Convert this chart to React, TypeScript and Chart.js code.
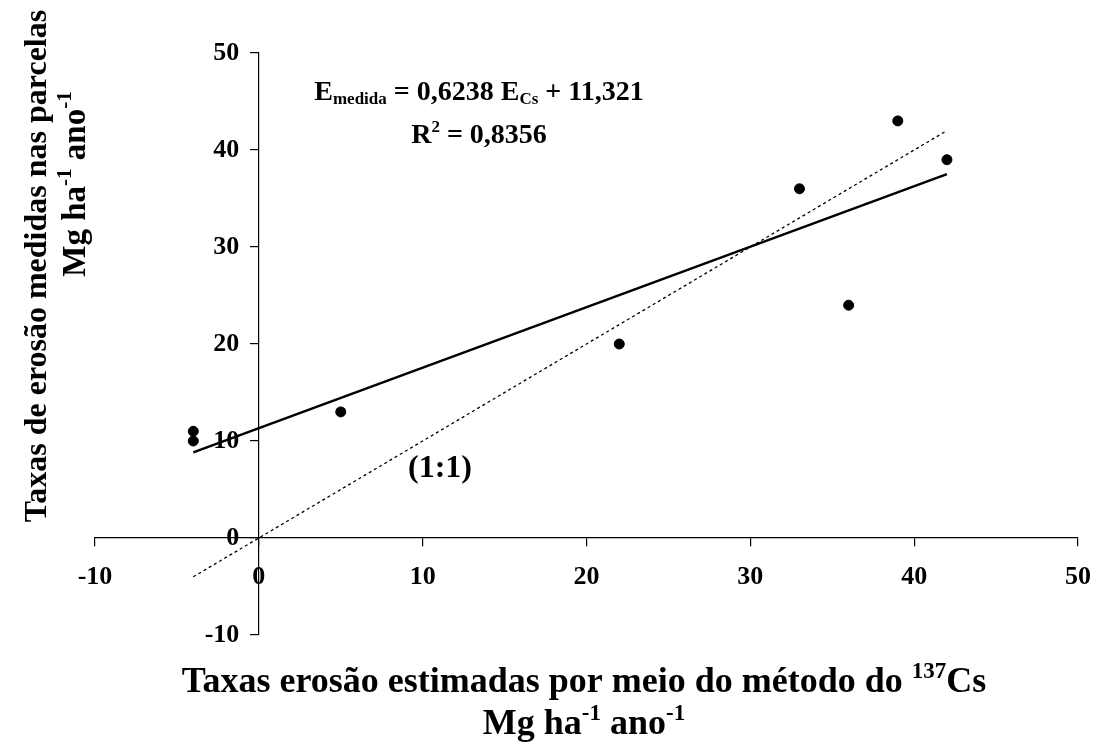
import React, { useEffect, useRef } from "react";
import { Chart, registerables } from "chart.js";

Chart.register(...registerables);

const pointsX: number[] = [-4, -4, 5, 22, 33, 36, 39, 42];
const pointsY: number[] = [11, 10, 13, 20, 36, 24, 43, 39];
const slope = 0.6238;
const intercept = 11.321;
const fitRangeX: number[] = [-4, 42];
const identityX: number[] = [-4, 42];
const axisMin = -10;
const axisMax = 50;
const axisStep = 10;

const FONT = "'Liberation Serif', 'Times New Roman', serif";

type Seg = { t: string; s: number; dy?: number };

function drawRich(ctx: CanvasRenderingContext2D, segs: Seg[], cx: number, cy: number) {
  let total = 0;
  for (const sg of segs) {
    ctx.font = `bold ${sg.s}px ${FONT}`;
    total += ctx.measureText(sg.t).width;
  }
  let x = cx - total / 2;
  ctx.textBaseline = "middle";
  ctx.textAlign = "left";
  for (const sg of segs) {
    ctx.font = `bold ${sg.s}px ${FONT}`;
    ctx.fillText(sg.t, x, cy + (sg.dy || 0));
    x += ctx.measureText(sg.t).width;
  }
}

const textPlugin = {
  id: "textPlugin",
  afterDraw(chart: any) {
    const ctx: CanvasRenderingContext2D = chart.ctx;
    ctx.save();
    ctx.fillStyle = "#000";
    // equation
    drawRich(ctx, [
      { t: "E", s: 28 },
      { t: "medida", s: 17, dy: 7 },
      { t: " = 0,6238 E", s: 28 },
      { t: "Cs", s: 17, dy: 7 },
      { t: " + 11,321", s: 28 },
    ], 479, 93);
    drawRich(ctx, [
      { t: "R", s: 28 },
      { t: "2", s: 17, dy: -8 },
      { t: " = 0,8356", s: 28 },
    ], 479, 136);
    // (1:1)
    drawRich(ctx, [{ t: "(1:1)", s: 32 }], 440, 469);
    // x title
    drawRich(ctx, [
      { t: "Taxas erosão estimadas por meio do método do ", s: 36 },
      { t: "137", s: 23, dy: -11 },
      { t: "Cs", s: 36 },
    ], 584, 683);
    drawRich(ctx, [
      { t: "Mg ha", s: 36 },
      { t: "-1", s: 23, dy: -11 },
      { t: " ano", s: 36 },
      { t: "-1", s: 23, dy: -11 },
    ], 584, 725);
    // y title
    ctx.save();
    ctx.translate(38, 266);
    ctx.rotate(-Math.PI / 2);
    drawRich(ctx, [{ t: "Taxas de erosão medidas nas parcelas", s: 32 }], 0, 0);
    ctx.restore();
    ctx.save();
    ctx.translate(76, 184);
    ctx.rotate(-Math.PI / 2);
    drawRich(ctx, [
      { t: "Mg ha", s: 33 },
      { t: "-1", s: 21, dy: -10 },
      { t: " ano", s: 33 },
      { t: "-1", s: 21, dy: -10 },
    ], 0, 0);
    ctx.restore();
    ctx.restore();
  },
};

export default function App() {
  const ref = useRef<HTMLCanvasElement>(null);
  useEffect(() => {
    if (!ref.current) return;
    const scatter = pointsX.map((x, i) => ({ x, y: pointsY[i] }));
    const fit = fitRangeX.map((x) => ({ x, y: slope * x + intercept }));
    const ident = identityX.map((x) => ({ x, y: x }));
    const tickFont = { family: FONT, size: 26, weight: "bold" as const };
    const chart = new Chart(ref.current, {
      type: "scatter",
      data: {
        datasets: [
          {
            label: "1:1",
            data: ident,
            showLine: true,
            borderColor: "#000",
            borderWidth: 1.3,
            borderDash: [3, 3],
            pointRadius: 0,
          },
          {
            label: "fit",
            data: fit,
            showLine: true,
            borderColor: "#000",
            borderWidth: 2.5,
            pointRadius: 0,
          },
          {
            label: "data",
            data: scatter,
            backgroundColor: "#000",
            borderColor: "#000",
            pointRadius: 5,
            pointHoverRadius: 5,
          },
        ],
      },
      options: {
        animation: false,
        responsive: false,
        events: [],
        layout: { padding: { left: 95, right: 17, top: 53, bottom: 108 } },
        plugins: { legend: { display: false }, tooltip: { enabled: false } },
        scales: {
          x: {
            type: "linear",
            min: axisMin,
            max: axisMax,
            position: { y: 0 },
            ticks: { stepSize: axisStep, color: "#000", font: tickFont, padding: 16, maxRotation: 0 },
            grid: { drawOnChartArea: false, drawTicks: true, tickLength: 8, color: "#000", lineWidth: 1.2 },
            border: { display: true, color: "#000", width: 1.2 },
            afterFit: (s: any) => {
              s.paddingLeft = 0;
              s.paddingRight = 0;
            },
          },
          y: {
            type: "linear",
            min: axisMin,
            max: axisMax,
            position: { x: 0 },
            ticks: {
              stepSize: axisStep,
              color: "#000",
              font: tickFont,
              padding: 10,
              callback: (v: any) => `${v}   `,
            },
            grid: { drawOnChartArea: false, drawTicks: true, tickLength: 8, color: "#000", lineWidth: 1.2 },
            border: { display: true, color: "#000", width: 1.2 },
            afterFit: (s: any) => {
              s.paddingTop = 0;
              s.paddingBottom = 0;
            },
          },
        },
      },
      plugins: [textPlugin],
    });
    return () => chart.destroy();
  }, []);
  return (
    <div style={{ position: "absolute", left: 0, top: 0, width: 1095, height: 743, background: "#fff" }}>
      <canvas ref={ref} width={1095} height={743} style={{ width: 1095, height: 743 }} />
    </div>
  );
}
